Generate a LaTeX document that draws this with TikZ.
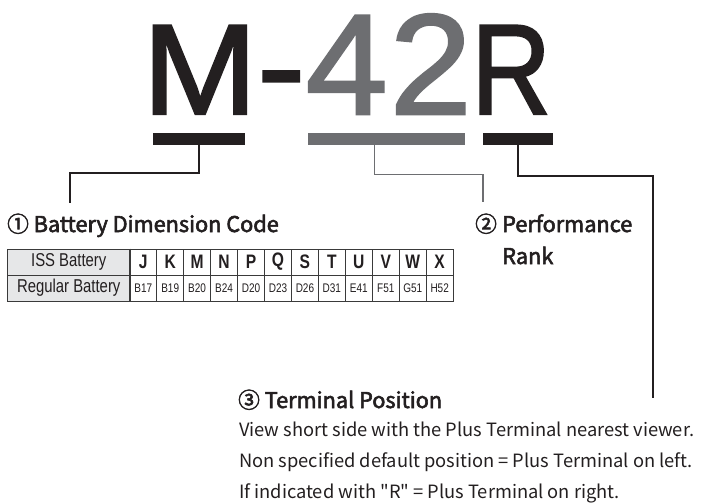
\documentclass[tikz,border=0pt]{standalone}
\usepackage{fontspec}
\usepackage{graphicx}
\setmainfont{Liberation Sans}
\newfontfamily\cjkf{Noto Sans CJK JP}
\newfontfamily\cjkmed[FakeBold=2.6]{Noto Sans CJK JP}
\newfontfamily\arialf{Liberation Sans}
\newfontfamily\titlef[FakeBold=1.8]{Liberation Sans}
\definecolor{inkblack}{HTML}{231F20}
\definecolor{inkgray}{HTML}{6D6E71}
\definecolor{cellgray}{HTML}{E6E7E8}
\definecolor{rulegray}{HTML}{3A3A3A}
\newcommand\condtxt[1]{\scalebox{0.8}[1]{#1}}
\begin{document}
\begin{tikzpicture}[x=1pt,y=-1pt,
  glyph/.style={inner sep=0pt,anchor=base west,text=inkblack},
  underbar/.style={fill=inkblack,inner sep=0pt,minimum height=12pt},
  blackline/.style={draw=inkblack,line width=1.7pt},
  grayline/.style={draw=inkgray,line width=1.4pt},
  heading/.style={inner sep=0pt,anchor=base west,text=inkblack,font=\cjkmed\fontsize{21.7}{24}\selectfont},
  bodytext/.style={inner sep=0pt,anchor=base west,text=inkblack,font=\cjkf\fontsize{18.3}{20}\selectfont},
  headcell/.style={draw=rulegray,line width=0.9pt,fill=white,inner sep=0pt,anchor=north west,minimum width=26.95pt,minimum height=26pt,font=\arialf\bfseries\fontsize{19.5}{20}\selectfont,text=inkblack},
  codecell/.style={draw=rulegray,line width=0.9pt,fill=white,inner sep=0pt,anchor=north west,minimum width=26.95pt,minimum height=26pt,font=\arialf\fontsize{12.5}{14}\selectfont,text=inkblack},
  namecell/.style={draw=rulegray,line width=0.9pt,fill=cellgray,inner sep=0pt,anchor=north west,minimum width=122pt,minimum height=26pt,font=\arialf\fontsize{18.6}{20}\selectfont,text=inkblack}
]
\useasboundingbox (0,0) rectangle (703,503);
\fill[white] (0,0) rectangle (703,503);

% title
\node[glyph,font=\titlef\fontsize{128.5}{130}\selectfont] (gM) at (142.5,114) {\scalebox{1.07}[1]{M}};
\node[glyph,font=\titlef\fontsize{128.5}{130}\selectfont] (gdash) at (257,110.5) {\scalebox{1.12}[1]{-}};
\node[glyph,font=\titlef\fontsize{143}{145}\selectfont,text=inkgray] (g4) at (305.5,114) {\scalebox{1.03}[1]{4}};
\node[glyph,font=\titlef\fontsize{143}{145}\selectfont,text=inkgray] (g2) at (389.5,114) {\scalebox{1.03}[1]{2}};
\node[glyph,font=\titlef\fontsize{128.5}{130}\selectfont] (gR) at (471,114) {\scalebox{0.86}[1]{R}};

% bars
\node[underbar,minimum width=92pt] (bar1) at (199,139) {};
\node[underbar,minimum width=156.5pt,fill=inkgray] (bar2) at (386.25,139) {};
\node[underbar,minimum width=70pt] (bar3) at (518,139) {};

% connectors
\coordinate (end1) at (70,203);
\coordinate (end2) at (483,202);
\coordinate (end3) at (653,398);
\draw[blackline] (bar1.south) -- ++(0,28) -| (end1);
\draw[grayline] ([xshift=-11.75pt]bar2.south) -- ++(0,29) -| (end2);
\draw[blackline] (bar3.south) -- ++(0,31) -| (end3);

% headings
\node[heading] (h1) at (7,232) {① Battery Dimension Code};
\node[heading] (h2n) at (475,232) {②};
\node[heading] (h2a) at (502,232) {Performance};
\node[heading] (h2b) at (502,264) {Rank};
\node[heading] (h3) at (238,408) {③ Terminal Position};

% body
\node[bodytext] (t1) at (239,436) {View short side with the Plus Terminal nearest viewer.};
\node[bodytext] (t2) at (239,467) {Non specified default position = Plus Terminal on left.};
\node[bodytext] (t3) at (239,498) {If indicated with "R" = Plus Terminal on right.};

% table
\node[namecell] (iss) at (7.3,248.5) {\condtxt{ISS Battery}};
\node[namecell] (reg) at (7.3,274.5) {\condtxt{Regular Battery}};
\foreach \L/\C [count=\i from 0] in {J/B17,K/B19,M/B20,N/B24,P/D20,Q/D23,S/D26,T/D31,U/E41,V/F51,W/G51,X/H52}{
  \node[headcell] (hc\i) at ({129.3+26.95*\i},248.5) {\condtxt{\L}};
  \node[codecell] (cc\i) at ({129.3+26.95*\i},274.5) {\condtxt{\C}};
}
\draw[rulegray,line width=1.8pt] (iss.north east) -- (reg.south east);
\end{tikzpicture}
\end{document}
